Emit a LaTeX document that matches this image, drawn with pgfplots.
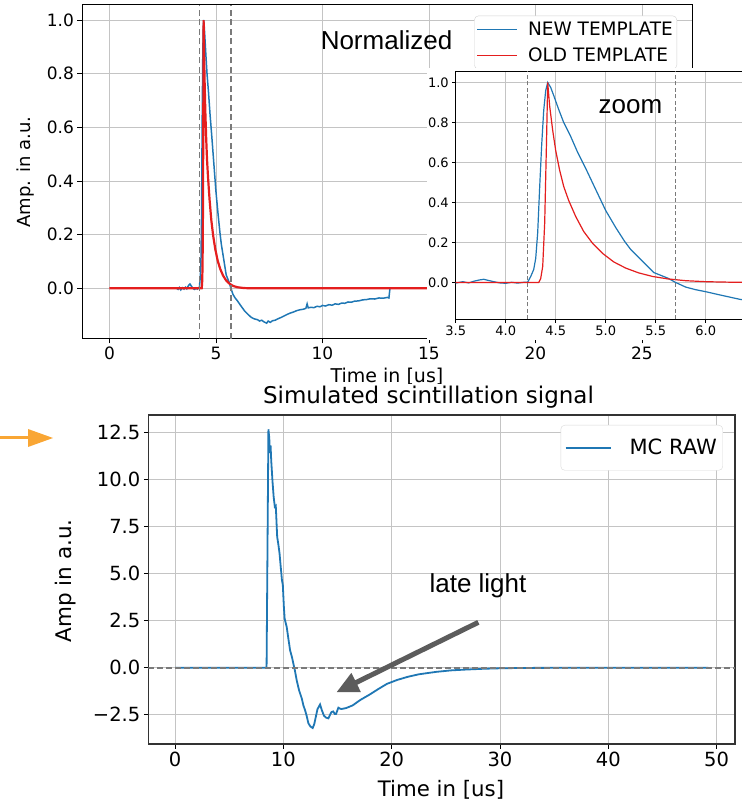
\documentclass[border=0pt]{standalone}
\usepackage{fontspec}
\setmainfont{DejaVu Sans}
\newfontfamily\arialfont{Liberation Sans}
\usepackage{pgfplots}
\pgfplotsset{compat=1.18}
\usetikzlibrary{arrows.meta}
\definecolor{mplblue}{HTML}{1F77B4}
\definecolor{mplred}{HTML}{E41E1E}
\definecolor{gridgray}{HTML}{C4C4C4}
\definecolor{dashgray}{HTML}{7A7A7A}
\definecolor{arrgray}{HTML}{5C5C5C}
\definecolor{orangearr}{HTML}{F9A634}
\newcommand\fs[1]{\fontsize{#1}{#1}\selectfont}

\pgfplotstableread{
x y
3.15 0.000
3.22 -0.004
3.28 0.003
3.35 -0.006
3.42 0.002
3.50 -0.003
3.57 0.004
3.63 -0.002
3.68 0.006
3.73 0.012
3.78 0.016
3.83 0.010
3.88 0.004
3.94 -0.002
4.00 -0.004
4.06 0.001
4.12 -0.003
4.18 0.001
4.22 0.002
4.25 0.030
4.28 0.065
4.30 0.120
4.32 0.250
4.34 0.480
4.36 0.690
4.38 0.860
4.40 0.960
4.42 1.000
4.45 0.975
4.48 0.935
4.53 0.865
4.58 0.800
4.65 0.730
4.72 0.650
4.81 0.560
4.90 0.465
5.00 0.360
5.10 0.275
5.19 0.205
5.25 0.165
5.31 0.135
5.40 0.090
5.48 0.050
5.55 0.036
5.62 0.022
5.70 0.000
5.80 -0.023
5.90 -0.036
6.00 -0.046
6.14 -0.062
6.34 -0.084
6.50 -0.097
6.65 -0.108
6.80 -0.114
6.95 -0.117
7.05 -0.122
7.15 -0.119
7.25 -0.125
7.38 -0.130
7.45 -0.122
7.55 -0.127
7.65 -0.121
7.78 -0.119
7.90 -0.114
8.05 -0.109
8.20 -0.103
8.35 -0.097
8.50 -0.092
8.65 -0.088
8.80 -0.083
8.95 -0.080
9.10 -0.078
9.22 -0.075
9.28 -0.058
9.33 -0.073
9.45 -0.071
9.60 -0.072
9.75 -0.067
9.88 -0.069
10.00 -0.064
10.15 -0.066
10.30 -0.061
10.45 -0.063
10.60 -0.058
10.75 -0.060
10.90 -0.055
11.05 -0.056
11.20 -0.051
11.35 -0.052
11.50 -0.048
11.70 -0.047
11.90 -0.043
12.07 -0.042
12.25 -0.039
12.45 -0.040
12.65 -0.036
12.85 -0.037
13.05 -0.034
13.12 -0.036
13.17 0.000
}\newtemplate

\pgfplotstableread{
x y
0 0
4.33 0
4.35 0.02
4.37 0.08
4.39 0.30
4.41 0.75
4.42 1.00
4.44 0.88
4.47 0.76
4.50 0.66
4.54 0.56
4.58 0.48
4.63 0.41
4.70 0.33
4.78 0.255
4.87 0.195
4.97 0.145
5.08 0.103
5.20 0.072
5.33 0.048
5.47 0.030
5.62 0.018
5.80 0.009
6.00 0.004
6.30 0.001
6.60 0
26 0
}\oldtemplate

\pgfplotstableread{
x y
0 0
8.45 0
8.62 12.66
8.70 12.2
8.76 11.4
8.82 11.8
8.88 11.0
8.99 9.96
9.10 9.1
9.21 8.55
9.30 8.6
9.43 6.95
9.55 6.5
9.65 6.06
9.75 5.4
9.87 4.65
9.95 4.4
10.05 3.2
10.12 2.6
10.31 2.16
10.45 1.6
10.62 0.93
10.80 0.55
10.93 0.2
11.05 -0.1
11.23 -0.66
11.45 -1.2
11.70 -1.63
11.85 -2.0
12.00 -2.25
12.15 -2.55
12.31 -2.95
12.50 -3.12
12.71 -3.20
12.85 -3.0
13.0 -2.6
13.15 -2.2
13.39 -1.95
13.55 -2.25
13.75 -2.55
13.95 -2.65
14.16 -2.69
14.35 -2.45
14.45 -2.35
14.60 -2.32
14.75 -2.46
14.86 -2.46
15.08 -2.12
15.25 -2.18
15.39 -2.19
15.8 -2.14
16.4 -2.0
17.08 -1.72
17.98 -1.42
18.8 -1.12
19.55 -0.86
20.5 -0.65
21.5 -0.48
22.5 -0.35
24.1 -0.22
25.5 -0.14
26.75 -0.10
28.5 -0.055
30 -0.03
32 -0.012
35 -0.004
40 0
49.25 0
}\mcraw

\pgfplotsset{
  mpl/.style={
    scale only axis,
    axis line style={black, line width=1pt},
    grid=major,
    major grid style={gridgray, line width=0.9pt},
    tick align=outside,
    tick style={black, line width=0.9pt},
    major tick length=4.5pt,
    xtick pos=bottom, ytick pos=left,
    legend cell align=left,
  }
}

\begin{document}
\begin{tikzpicture}[x=1pt,y=1pt]
% ---------------- top: normalized templates ----------------
\begin{axis}[mpl,
  at={(82pt,462pt)}, anchor=south west,
  width=610pt, height=334pt,
  xmin=-1.29, xmax=27.35, ymin=-0.189, ymax=1.056,
  xtick={0,5,10,15,20,25}, xticklabels={0,5,10,15,20,25},
  ytick={0,0.2,0.4,0.6,0.8,1}, yticklabels={0.0,0.2,0.4,0.6,0.8,1.0},
  ticklabel style={font=\fs{17}},
  legend style={at={(0.9754,0.968)}, anchor=north east,
    draw=gray!35, rounded corners=4pt, fill=white,
    font=\fs{18.5}, inner xsep=2pt, inner ysep=4pt, row sep=7pt, column sep=8pt},
  legend image code/.code={\draw[#1] (0pt,0pt) -- (40pt,0pt);},
]
\addlegendimage{color=mplblue, line width=1.6pt}
\addlegendentry{NEW TEMPLATE}
\addlegendimage{color=mplred, line width=1.6pt}
\addlegendentry{OLD TEMPLATE}
\addplot[mplblue, line width=1.5pt, forget plot] table[x=x,y=y] {\newtemplate};
\addplot[mplred, line width=2.2pt, forget plot] table[x=x,y=y] {\oldtemplate};
\addplot[dashgray, line width=1.4pt, dash pattern=on 6pt off 3.5pt, forget plot] coordinates {(4.22,-0.189) (4.22,1.056)};
\addplot[dashgray, line width=1.4pt, dash pattern=on 6pt off 3.5pt, forget plot] coordinates {(5.70,-0.189) (5.70,1.056)};
\end{axis}
\node[anchor=base, font=\fs{19}] at (387,418) {Time in [us]};
\node[rotate=90, font=\fs{18}] at (26,629) {Amp. in a.u.};
\node[anchor=base, font=\arialfont\fs{26}] at (386.5,751) {Normalized};

% ---------------- inset: zoom ----------------
\fill[white] (427,460.5) rectangle (760,733);
\begin{axis}[mpl,
  at={(455.7pt,481.7pt)}, anchor=south west,
  width=294pt, height=248.2pt,
  xmin=3.5, xmax=6.44, ymin=-0.184, ymax=1.057,
  xtick={3.5,4,4.5,5,5.5,6}, xticklabels={3.5,4.0,4.5,5.0,5.5,6.0},
  ytick={0,0.2,0.4,0.6,0.8,1}, yticklabels={0.0,0.2,0.4,0.6,0.8,1.0},
  ticklabel style={font=\fs{13}},
  axis line style={black, line width=0.8pt},
  major grid style={gridgray, line width=0.7pt},
  major tick length=3.5pt,
]
\addplot[mplblue, line width=1.2pt] table[x=x,y=y] {\newtemplate};
\addplot[mplred, line width=1.2pt] table[x=x,y=y] {\oldtemplate};
\addplot[dashgray, line width=1pt, dash pattern=on 4pt off 2.5pt] coordinates {(4.22,-0.184) (4.22,1.057)};
\addplot[dashgray, line width=1pt, dash pattern=on 4pt off 2.5pt] coordinates {(5.70,-0.184) (5.70,1.057)};
\end{axis}
\node[anchor=base, font=\arialfont\fs{26}] at (630.5,687.7) {zoom};

% ---------------- bottom: simulated signal ----------------
\fill[white] (60,0) rectangle (760,417);
\begin{axis}[mpl,
  at={(148.3pt,57pt)}, anchor=south west,
  width=586.7pt, height=329pt,
  xmin=-2.47, xmax=51.7, ymin=-4.05, ymax=13.42,
  xtick={0,10,20,30,40,50}, xticklabels={0,10,20,30,40,50},
  ytick={-2.5,0,2.5,5,7.5,10,12.5},
  yticklabels={−2.5,0.0,2.5,5.0,7.5,10.0,12.5},
  ticklabel style={font=\fs{19.5}},
  axis line style={black!80, line width=1.3pt},
  legend style={at={(0.9795,0.9696)}, anchor=north east,
    draw=gray!30, rounded corners=4pt, fill=white,
    font=\fs{21}, inner xsep=4pt, inner ysep=12pt, column sep=16pt},
  legend image code/.code={\draw[#1] (0pt,0pt) -- (45pt,0pt);},
]
\addplot[mplblue, line width=1.8pt] table[x=x,y=y] {\mcraw};
\addlegendentry{MC RAW}
\addplot[dashgray, line width=1.6pt, dash pattern=on 6pt off 3pt, forget plot] coordinates {(-2.47,0) (51.7,0)};
\draw[arrgray, line width=5pt, -{Triangle[length=22pt, width=20pt]}] (axis cs:28.0,2.41) -- (axis cs:14.9,-1.30);
\end{axis}
\node[anchor=base, font=\fs{23}] at (428.5,397) {Simulated scintillation signal};
\node[anchor=base, font=\fs{21.3}] at (441,5) {Time in [us]};
\node[rotate=90, font=\fs{21.5}] at (66,220) {Amp in a.u.};
\node[anchor=base, font=\arialfont\fs{26}] at (478,208) {late light};

% orange pointer
\fill[orangearr] (0,361.5) rectangle (30,364.5);
\fill[orangearr] (28,372) -- (53,363) -- (28,354) -- cycle;

\pgfresetboundingbox
\path[use as bounding box] (0,0) rectangle (742,801);
\end{tikzpicture}
\end{document}
